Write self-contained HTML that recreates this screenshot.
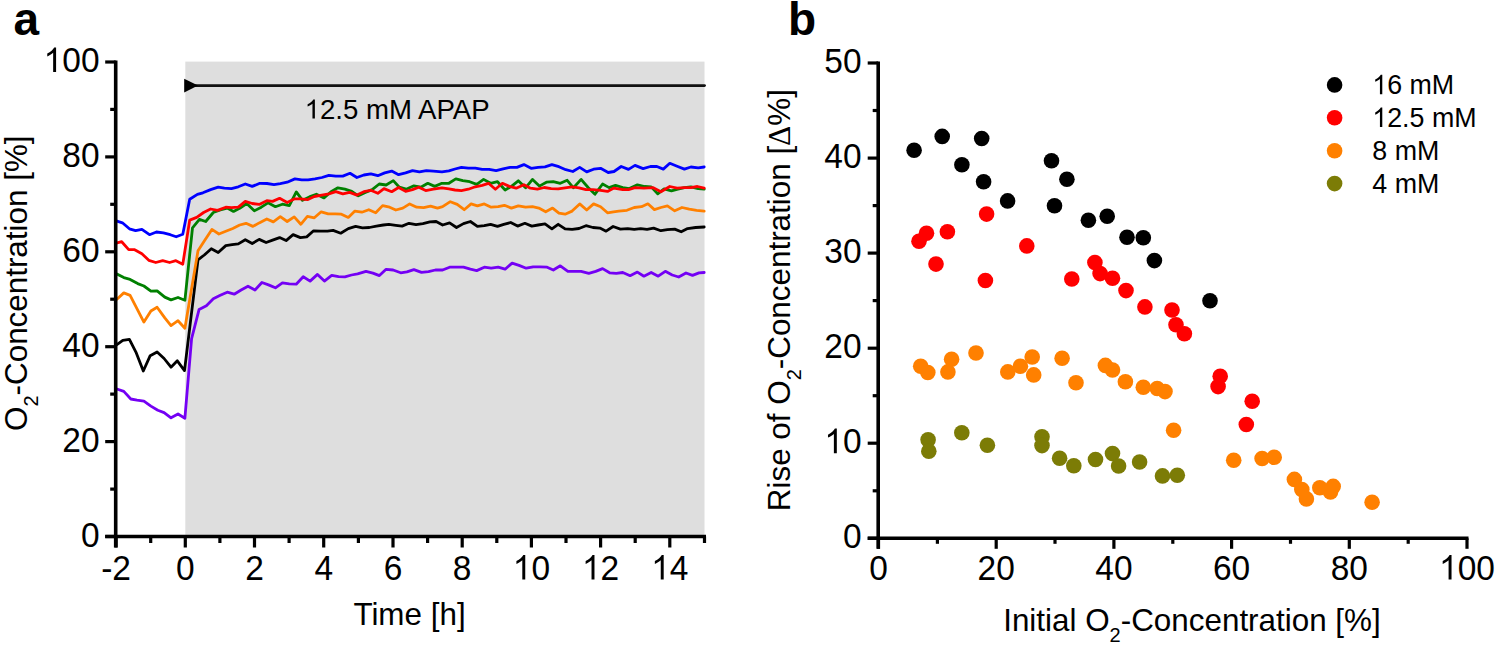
<!DOCTYPE html>
<html><head><meta charset="utf-8"><title>Figure</title>
<style>html,body{margin:0;padding:0;background:#fff;width:1498px;height:648px;overflow:hidden}svg{display:block}</style>
</head><body>
<svg width="1498" height="648" viewBox="0 0 1498 648">
<rect x="0" y="0" width="1498" height="648" fill="#fff"/>
<rect x="185.3" y="61.6" width="519.2" height="474.9" fill="#dedede"/>
<line x1="190" y1="85.6" x2="704.5" y2="85.6" stroke="#111" stroke-width="2.8" stroke-linecap="round"/>
<polygon points="184.2,78.8 198,85.6 184.2,92.5" fill="#000"/>
<g transform="translate(304.60,118.60)"><path d="M763 0L583 0L583 1102C540 1063 483 1024 413 984C343 945 280 915 223 894L223 1061C324 1106 412 1162 487 1226C562 1291 615 1352 646 1409L763 1409Z" transform="translate(0.00,0) scale(0.01348,-0.01348)"/><text x="15.35" y="0" font-family="Liberation Sans, sans-serif" font-size="27.6"  xml:space="preserve">2.5 mM APAP</text></g>
<polyline points="116.9,344.6 122.8,340.4 129.4,339.4 136.3,352.9 143.3,371.0 150.2,355.7 157.1,351.9 164.1,358.5 171.0,367.2 177.3,360.8 184.5,370.6 198.0,259.9 204.3,255.0 211.3,248.8 218.2,252.5 225.8,245.6 232.1,244.6 238.3,243.9 245.3,239.7 252.2,243.5 259.2,239.4 266.1,242.5 272.6,240.1 279.6,237.6 286.1,240.6 293.1,234.6 300.4,237.6 306.7,236.9 313.6,230.8 320.6,231.1 327.5,231.1 333.1,230.4 340.7,233.2 348.3,228.6 355.6,226.4 362.5,227.8 369.4,227.5 376.4,226.1 383.3,225.0 388.9,224.3 395.8,225.3 402.1,226.1 409.0,223.3 416.0,224.7 422.9,223.6 429.9,221.9 436.1,221.5 442.6,225.0 449.6,222.9 456.5,227.5 463.5,223.6 470.4,221.5 477.4,226.4 484.3,225.7 490.6,224.3 497.5,226.4 503.8,224.3 510.7,222.5 517.6,226.1 524.9,223.3 531.8,226.1 538.1,225.0 545.0,223.9 551.9,228.9 558.2,224.3 565.1,228.9 572.1,229.4 579.0,228.5 586.0,225.7 592.9,227.5 599.9,228.1 606.1,231.2 613.1,226.5 620.4,229.1 627.7,228.6 634.2,229.4 640.7,228.6 647.1,229.4 653.6,228.1 660.9,230.7 667.4,229.7 674.7,229.1 681.2,231.8 687.6,228.6 695.7,227.5 704.2,227.0" fill="none" stroke="#000000" stroke-width="2.8" stroke-linejoin="round" stroke-linecap="round"/>
<polyline points="116.9,389.0 123.8,391.4 130.8,399.0 137.0,400.1 143.9,401.1 150.9,406.1 157.8,410.3 164.1,412.6 171.0,417.8 178.0,414.0 184.9,418.2 191.6,338.6 199.1,309.4 206.4,305.7 213.3,298.8 220.3,295.3 227.2,292.2 234.2,294.2 241.1,290.0 248.0,286.2 255.0,290.0 261.9,282.5 268.5,284.9 275.4,287.8 282.4,282.8 289.3,283.9 296.2,284.2 303.2,276.7 310.1,281.1 317.5,274.4 324.4,281.1 331.7,275.3 338.6,276.7 344.9,276.9 351.5,275.0 357.6,273.8 366.0,271.4 372.9,273.1 379.4,275.6 386.1,269.3 393.1,270.0 400.7,272.8 406.9,271.9 413.9,269.6 421.5,272.4 428.5,271.7 435.4,270.0 442.6,270.0 449.6,267.2 456.5,267.2 463.5,267.2 470.4,269.2 476.7,270.6 484.3,267.2 491.2,268.2 498.2,267.2 505.1,269.2 512.1,263.1 519.0,265.4 526.2,268.2 533.2,266.8 540.1,266.8 547.1,267.2 553.3,270.0 560.3,265.8 567.9,271.4 574.9,271.4 581.1,271.4 588.8,273.3 595.7,271.4 602.6,268.6 609.6,272.8 616.3,273.4 622.8,272.5 630.1,275.7 637.4,272.1 643.9,276.2 651.2,272.5 658.2,276.2 665.3,271.3 672.2,275.0 678.7,277.0 686.0,273.0 692.5,275.4 699.0,272.9 704.2,272.5" fill="none" stroke="#7400f4" stroke-width="2.8" stroke-linejoin="round" stroke-linecap="round"/>
<polyline points="116.9,299.2 123.8,292.9 130.1,295.4 143.9,322.1 150.9,311.0 157.1,307.2 164.8,317.9 171.0,325.6 178.0,320.7 184.9,328.3 198.0,250.8 204.3,241.1 211.9,229.4 218.9,234.0 225.8,231.3 232.8,228.5 239.7,225.0 246.0,223.3 252.9,226.4 259.2,222.9 266.8,219.0 273.3,221.9 280.3,216.7 287.2,221.5 294.2,216.9 300.8,224.3 307.4,216.4 314.3,217.8 321.2,211.8 328.2,213.9 335.1,213.9 341.4,214.2 348.3,217.4 354.9,211.1 361.8,212.2 368.8,209.7 375.7,212.8 382.6,205.6 389.6,207.2 395.8,210.0 402.8,208.1 409.7,203.9 416.7,207.2 423.6,207.6 430.6,206.2 437.5,208.1 442.6,206.7 450.3,201.7 457.2,204.4 464.2,209.7 471.1,203.9 477.4,205.8 484.3,203.9 491.2,207.2 498.2,206.7 504.4,205.3 511.4,208.1 518.3,205.8 525.6,207.2 532.5,206.7 538.8,208.1 545.7,211.8 552.6,208.1 558.9,213.2 565.1,214.2 572.1,211.1 579.7,203.9 586.7,210.0 593.6,203.9 600.6,206.7 607.5,212.8 613.5,211.8 618.8,211.2 626.9,210.3 634.2,207.5 641.5,206.7 647.9,203.8 654.4,209.6 660.9,207.5 667.4,205.9 674.7,210.8 682.0,207.5 689.3,209.1 696.6,210.3 704.2,211.2" fill="none" stroke="#ff8000" stroke-width="2.8" stroke-linejoin="round" stroke-linecap="round"/>
<polyline points="116.2,220.8 122.4,222.8 129.4,228.8 135.6,230.6 141.9,229.4 149.5,234.7 156.4,232.0 163.4,232.9 170.3,234.7 176.2,236.8 182.8,234.3 189.7,199.3 197.4,194.4 202.9,192.8 210.6,189.6 218.2,187.2 224.4,188.2 231.4,188.6 238.3,186.8 245.3,184.0 252.2,186.4 259.9,183.3 267.0,183.5 274.0,184.7 280.3,183.6 287.2,182.2 294.9,178.9 301.8,179.9 308.1,179.9 315.0,178.9 321.9,177.5 328.9,175.3 335.8,176.1 342.8,176.1 350.0,173.3 356.9,177.5 363.9,175.0 370.8,173.9 377.8,175.7 384.7,172.9 391.7,171.1 398.6,174.7 405.6,172.9 412.5,170.6 419.4,171.9 426.4,170.6 433.3,171.1 441.9,171.9 448.9,170.8 455.0,169.0 461.4,167.4 468.3,168.1 475.3,168.1 482.2,169.4 489.2,169.4 496.1,170.6 503.1,168.8 510.0,167.4 516.9,167.4 523.9,164.6 531.1,168.3 538.1,167.4 545.0,166.9 551.9,164.6 558.9,166.7 565.8,169.7 572.8,171.5 579.7,167.4 586.7,171.9 593.6,169.2 600.6,168.3 608.2,172.5 614.0,171.5 621.2,166.5 628.5,169.4 635.0,165.4 643.1,168.6 650.4,166.5 656.9,166.5 663.3,169.1 669.8,163.3 677.1,166.2 684.4,169.1 690.9,167.0 698.2,167.8 704.2,167.0" fill="none" stroke="#0000ff" stroke-width="2.8" stroke-linejoin="round" stroke-linecap="round"/>
<polyline points="116.9,273.9 123.8,277.6 130.1,279.4 137.7,283.6 143.9,286.0 150.9,291.1 157.1,290.8 164.8,297.1 171.0,299.9 178.0,297.5 184.9,300.3 192.5,227.8 199.4,219.4 205.7,221.5 213.3,212.5 220.3,210.0 227.2,208.1 233.5,211.4 239.7,208.3 246.7,203.5 254.3,210.8 261.3,207.2 268.0,202.8 275.4,206.7 282.4,204.2 289.3,205.6 296.3,191.9 302.5,200.3 309.4,196.9 316.4,194.2 324.0,197.9 331.0,191.7 337.9,187.8 344.9,189.2 351.8,191.4 358.3,195.8 365.3,192.4 372.2,189.6 379.2,184.0 386.1,185.0 393.3,180.6 399.3,187.2 406.2,189.2 413.9,185.8 420.8,187.2 427.8,183.3 434.7,186.4 441.9,183.3 448.9,183.3 455.8,178.9 462.8,180.6 469.7,181.7 476.7,184.4 483.6,179.4 490.6,183.3 497.5,181.7 505.1,190.0 511.4,186.4 518.3,180.8 525.6,187.8 532.5,179.4 539.4,186.1 546.4,182.2 553.3,181.7 560.3,183.3 567.2,180.3 573.5,187.8 581.1,179.4 588.1,187.5 595.0,194.2 602.6,184.0 609.1,187.6 615.5,185.3 622.8,187.6 629.3,188.6 637.4,184.8 644.7,186.5 651.2,186.9 657.7,193.8 664.1,188.9 671.4,190.8 677.9,189.2 684.4,187.6 690.9,186.9 698.2,188.6 704.2,189.2" fill="none" stroke="#008000" stroke-width="2.8" stroke-linejoin="round" stroke-linecap="round"/>
<polyline points="116.2,243.1 121.7,241.7 128.7,249.6 134.2,249.6 141.9,253.8 148.8,260.3 155.8,262.5 162.7,260.7 169.6,262.5 175.9,260.7 182.8,264.2 189.7,220.1 196.7,217.4 203.6,212.5 210.6,209.0 217.5,210.4 225.8,207.2 231.4,207.6 238.3,207.2 245.3,201.4 252.2,203.5 259.2,204.4 266.8,200.7 272.6,201.4 279.6,198.3 287.2,202.5 294.2,198.9 300.4,198.9 307.4,199.7 314.3,196.5 321.9,195.1 328.9,193.8 335.8,191.7 342.8,193.8 349.7,192.4 356.9,195.1 363.9,191.7 370.8,190.3 377.8,193.3 384.0,188.6 391.7,191.7 398.6,187.5 405.6,191.4 412.5,189.6 418.8,187.2 425.7,190.6 433.3,189.2 441.9,187.8 448.9,188.9 455.0,190.0 461.4,190.6 468.3,189.2 475.3,186.8 482.2,185.4 488.5,183.3 495.4,189.2 502.4,183.3 509.3,186.4 516.2,188.2 523.9,184.7 530.4,188.2 537.4,189.2 544.3,187.5 551.2,188.6 558.2,188.9 565.1,187.8 572.1,186.8 579.0,187.8 586.0,189.6 592.9,189.6 600.6,190.3 607.5,191.4 613.9,188.1 622.8,189.7 628.5,189.7 635.0,187.6 643.9,188.1 652.8,187.6 660.9,191.8 669.8,186.5 677.1,188.1 684.4,187.6 690.9,187.6 697.4,186.5 704.2,188.1" fill="none" stroke="#ff0000" stroke-width="2.8" stroke-linejoin="round" stroke-linecap="round"/>
<line x1="115.7" y1="60.5" x2="115.7" y2="547.5" stroke="#000" stroke-width="3.6"/>
<line x1="105.2" y1="536.5" x2="706.0" y2="536.5" stroke="#000" stroke-width="3.6"/>
<line x1="105.2" y1="536.5" x2="115.7" y2="536.5" stroke="#000" stroke-width="3.2"/>
<g transform="translate(99.50,546.60) scale(1,1.07)"><text x="-18.63" y="0" font-family="Liberation Sans, sans-serif" font-size="33.5"  xml:space="preserve">0</text></g>
<line x1="110.2" y1="489.1" x2="115.7" y2="489.1" stroke="#000" stroke-width="3.2"/>
<line x1="105.2" y1="441.6" x2="115.7" y2="441.6" stroke="#000" stroke-width="3.2"/>
<g transform="translate(99.50,451.70) scale(1,1.07)"><text x="-37.26" y="0" font-family="Liberation Sans, sans-serif" font-size="33.5"  xml:space="preserve">20</text></g>
<line x1="110.2" y1="394.1" x2="115.7" y2="394.1" stroke="#000" stroke-width="3.2"/>
<line x1="105.2" y1="346.7" x2="115.7" y2="346.7" stroke="#000" stroke-width="3.2"/>
<g transform="translate(99.50,356.80) scale(1,1.07)"><text x="-37.26" y="0" font-family="Liberation Sans, sans-serif" font-size="33.5"  xml:space="preserve">40</text></g>
<line x1="110.2" y1="299.2" x2="115.7" y2="299.2" stroke="#000" stroke-width="3.2"/>
<line x1="105.2" y1="251.8" x2="115.7" y2="251.8" stroke="#000" stroke-width="3.2"/>
<g transform="translate(99.50,261.90) scale(1,1.07)"><text x="-37.26" y="0" font-family="Liberation Sans, sans-serif" font-size="33.5"  xml:space="preserve">60</text></g>
<line x1="110.2" y1="204.3" x2="115.7" y2="204.3" stroke="#000" stroke-width="3.2"/>
<line x1="105.2" y1="156.9" x2="115.7" y2="156.9" stroke="#000" stroke-width="3.2"/>
<g transform="translate(99.50,167.00) scale(1,1.07)"><text x="-37.26" y="0" font-family="Liberation Sans, sans-serif" font-size="33.5"  xml:space="preserve">80</text></g>
<line x1="110.2" y1="109.4" x2="115.7" y2="109.4" stroke="#000" stroke-width="3.2"/>
<line x1="105.2" y1="62.0" x2="115.7" y2="62.0" stroke="#000" stroke-width="3.2"/>
<g transform="translate(99.50,72.10) scale(1,1.07)"><path d="M763 0L583 0L583 1102C540 1063 483 1024 413 984C343 945 280 915 223 894L223 1061C324 1106 412 1162 487 1226C562 1291 615 1352 646 1409L763 1409Z" transform="translate(-55.89,0) scale(0.01636,-0.01636)"/><text x="-37.26" y="0" font-family="Liberation Sans, sans-serif" font-size="33.5"  xml:space="preserve">00</text></g>
<line x1="116.1" y1="536.5" x2="116.1" y2="547.5" stroke="#000" stroke-width="3.2"/>
<g transform="translate(116.08,579.60) scale(1,1.07)"><text x="-14.89" y="0" font-family="Liberation Sans, sans-serif" font-size="33.5"  xml:space="preserve">-2</text></g>
<line x1="150.7" y1="536.5" x2="150.7" y2="543.0" stroke="#000" stroke-width="3.2"/>
<line x1="185.3" y1="536.5" x2="185.3" y2="547.5" stroke="#000" stroke-width="3.2"/>
<g transform="translate(185.30,579.60) scale(1,1.07)"><text x="-9.32" y="0" font-family="Liberation Sans, sans-serif" font-size="33.5"  xml:space="preserve">0</text></g>
<line x1="219.9" y1="536.5" x2="219.9" y2="543.0" stroke="#000" stroke-width="3.2"/>
<line x1="254.5" y1="536.5" x2="254.5" y2="547.5" stroke="#000" stroke-width="3.2"/>
<g transform="translate(254.52,579.60) scale(1,1.07)"><text x="-9.32" y="0" font-family="Liberation Sans, sans-serif" font-size="33.5"  xml:space="preserve">2</text></g>
<line x1="289.1" y1="536.5" x2="289.1" y2="543.0" stroke="#000" stroke-width="3.2"/>
<line x1="323.7" y1="536.5" x2="323.7" y2="547.5" stroke="#000" stroke-width="3.2"/>
<g transform="translate(323.74,579.60) scale(1,1.07)"><text x="-9.32" y="0" font-family="Liberation Sans, sans-serif" font-size="33.5"  xml:space="preserve">4</text></g>
<line x1="358.4" y1="536.5" x2="358.4" y2="543.0" stroke="#000" stroke-width="3.2"/>
<line x1="393.0" y1="536.5" x2="393.0" y2="547.5" stroke="#000" stroke-width="3.2"/>
<g transform="translate(392.96,579.60) scale(1,1.07)"><text x="-9.32" y="0" font-family="Liberation Sans, sans-serif" font-size="33.5"  xml:space="preserve">6</text></g>
<line x1="427.6" y1="536.5" x2="427.6" y2="543.0" stroke="#000" stroke-width="3.2"/>
<line x1="462.2" y1="536.5" x2="462.2" y2="547.5" stroke="#000" stroke-width="3.2"/>
<g transform="translate(462.18,579.60) scale(1,1.07)"><text x="-9.32" y="0" font-family="Liberation Sans, sans-serif" font-size="33.5"  xml:space="preserve">8</text></g>
<line x1="496.8" y1="536.5" x2="496.8" y2="543.0" stroke="#000" stroke-width="3.2"/>
<line x1="531.4" y1="536.5" x2="531.4" y2="547.5" stroke="#000" stroke-width="3.2"/>
<g transform="translate(531.40,579.60) scale(1,1.07)"><path d="M763 0L583 0L583 1102C540 1063 483 1024 413 984C343 945 280 915 223 894L223 1061C324 1106 412 1162 487 1226C562 1291 615 1352 646 1409L763 1409Z" transform="translate(-18.63,0) scale(0.01636,-0.01636)"/><text x="0.00" y="0" font-family="Liberation Sans, sans-serif" font-size="33.5"  xml:space="preserve">0</text></g>
<line x1="566.0" y1="536.5" x2="566.0" y2="543.0" stroke="#000" stroke-width="3.2"/>
<line x1="600.6" y1="536.5" x2="600.6" y2="547.5" stroke="#000" stroke-width="3.2"/>
<g transform="translate(600.62,579.60) scale(1,1.07)"><path d="M763 0L583 0L583 1102C540 1063 483 1024 413 984C343 945 280 915 223 894L223 1061C324 1106 412 1162 487 1226C562 1291 615 1352 646 1409L763 1409Z" transform="translate(-18.63,0) scale(0.01636,-0.01636)"/><text x="0.00" y="0" font-family="Liberation Sans, sans-serif" font-size="33.5"  xml:space="preserve">2</text></g>
<line x1="635.2" y1="536.5" x2="635.2" y2="543.0" stroke="#000" stroke-width="3.2"/>
<line x1="669.8" y1="536.5" x2="669.8" y2="547.5" stroke="#000" stroke-width="3.2"/>
<g transform="translate(669.84,579.60) scale(1,1.07)"><path d="M763 0L583 0L583 1102C540 1063 483 1024 413 984C343 945 280 915 223 894L223 1061C324 1106 412 1162 487 1226C562 1291 615 1352 646 1409L763 1409Z" transform="translate(-18.63,0) scale(0.01636,-0.01636)"/><text x="0.00" y="0" font-family="Liberation Sans, sans-serif" font-size="33.5"  xml:space="preserve">4</text></g>
<line x1="704.5" y1="536.5" x2="704.5" y2="543.0" stroke="#000" stroke-width="3.2"/>
<text x="353.4" y="625" font-family="Liberation Sans, sans-serif" font-size="31.4">Time [h]</text>
<text transform="translate(26.5,431) rotate(-90)" font-family="Liberation Sans, sans-serif" font-size="31.4">O<tspan font-size="20" dy="11">2</tspan><tspan dy="-11">-Concentration [%]</tspan></text>
<text x="13.5" y="34.5" font-family="Liberation Sans, sans-serif" font-weight="bold" font-size="46">a</text>
<text x="788" y="35" font-family="Liberation Sans, sans-serif" font-weight="bold" font-size="46">b</text>
<circle cx="914.1" cy="150.2" r="7.8" fill="#000000"/>
<circle cx="942.2" cy="136.4" r="7.8" fill="#000000"/>
<circle cx="981.7" cy="138.5" r="7.8" fill="#000000"/>
<circle cx="961.9" cy="164.8" r="7.8" fill="#000000"/>
<circle cx="983.6" cy="181.7" r="7.8" fill="#000000"/>
<circle cx="1007.6" cy="200.9" r="7.8" fill="#000000"/>
<circle cx="1051.5" cy="160.7" r="7.8" fill="#000000"/>
<circle cx="1066.9" cy="179.3" r="7.8" fill="#000000"/>
<circle cx="1054.5" cy="205.8" r="7.8" fill="#000000"/>
<circle cx="1088.4" cy="220.2" r="7.8" fill="#000000"/>
<circle cx="1107.2" cy="216.2" r="7.8" fill="#000000"/>
<circle cx="1127.0" cy="237.2" r="7.8" fill="#000000"/>
<circle cx="1143.3" cy="237.8" r="7.8" fill="#000000"/>
<circle cx="1154.4" cy="260.6" r="7.8" fill="#000000"/>
<circle cx="1210.0" cy="300.7" r="7.8" fill="#000000"/>
<circle cx="986.6" cy="214.1" r="7.8" fill="#ff0000"/>
<circle cx="926.5" cy="233.3" r="7.8" fill="#ff0000"/>
<circle cx="919.0" cy="241.3" r="7.8" fill="#ff0000"/>
<circle cx="947.4" cy="231.7" r="7.8" fill="#ff0000"/>
<circle cx="936.0" cy="264.1" r="7.8" fill="#ff0000"/>
<circle cx="1026.8" cy="245.9" r="7.8" fill="#ff0000"/>
<circle cx="985.4" cy="280.5" r="7.8" fill="#ff0000"/>
<circle cx="1071.8" cy="279.0" r="7.8" fill="#ff0000"/>
<circle cx="1094.9" cy="262.5" r="7.8" fill="#ff0000"/>
<circle cx="1100.1" cy="273.6" r="7.8" fill="#ff0000"/>
<circle cx="1112.5" cy="278.2" r="7.8" fill="#ff0000"/>
<circle cx="1126.0" cy="290.6" r="7.8" fill="#ff0000"/>
<circle cx="1144.9" cy="306.9" r="7.8" fill="#ff0000"/>
<circle cx="1172.0" cy="310.0" r="7.8" fill="#ff0000"/>
<circle cx="1176.0" cy="324.8" r="7.8" fill="#ff0000"/>
<circle cx="1184.4" cy="333.8" r="7.8" fill="#ff0000"/>
<circle cx="1220.2" cy="376.3" r="7.8" fill="#ff0000"/>
<circle cx="1218.1" cy="386.6" r="7.8" fill="#ff0000"/>
<circle cx="1252.2" cy="401.3" r="7.8" fill="#ff0000"/>
<circle cx="1246.3" cy="424.5" r="7.8" fill="#ff0000"/>
<circle cx="920.7" cy="366.3" r="7.8" fill="#ff8000"/>
<circle cx="927.8" cy="372.5" r="7.8" fill="#ff8000"/>
<circle cx="951.6" cy="359.2" r="7.8" fill="#ff8000"/>
<circle cx="947.9" cy="371.9" r="7.8" fill="#ff8000"/>
<circle cx="976.0" cy="353.0" r="7.8" fill="#ff8000"/>
<circle cx="1007.8" cy="371.9" r="7.8" fill="#ff8000"/>
<circle cx="1020.4" cy="366.3" r="7.8" fill="#ff8000"/>
<circle cx="1032.2" cy="357.0" r="7.8" fill="#ff8000"/>
<circle cx="1033.7" cy="374.9" r="7.8" fill="#ff8000"/>
<circle cx="1062.1" cy="358.3" r="7.8" fill="#ff8000"/>
<circle cx="1076.0" cy="382.7" r="7.8" fill="#ff8000"/>
<circle cx="1105.4" cy="365.4" r="7.8" fill="#ff8000"/>
<circle cx="1112.5" cy="370.0" r="7.8" fill="#ff8000"/>
<circle cx="1125.4" cy="381.7" r="7.8" fill="#ff8000"/>
<circle cx="1143.3" cy="387.3" r="7.8" fill="#ff8000"/>
<circle cx="1157.2" cy="388.5" r="7.8" fill="#ff8000"/>
<circle cx="1165.0" cy="391.6" r="7.8" fill="#ff8000"/>
<circle cx="1173.6" cy="430.2" r="7.8" fill="#ff8000"/>
<circle cx="1233.7" cy="460.2" r="7.8" fill="#ff8000"/>
<circle cx="1262.1" cy="458.5" r="7.8" fill="#ff8000"/>
<circle cx="1274.2" cy="457.3" r="7.8" fill="#ff8000"/>
<circle cx="1294.4" cy="479.4" r="7.8" fill="#ff8000"/>
<circle cx="1301.8" cy="489.6" r="7.8" fill="#ff8000"/>
<circle cx="1306.4" cy="498.9" r="7.8" fill="#ff8000"/>
<circle cx="1319.8" cy="487.8" r="7.8" fill="#ff8000"/>
<circle cx="1333.2" cy="486.4" r="7.8" fill="#ff8000"/>
<circle cx="1330.5" cy="492.0" r="7.8" fill="#ff8000"/>
<circle cx="1372.1" cy="502.2" r="7.8" fill="#ff8000"/>
<circle cx="928.1" cy="439.8" r="7.8" fill="#7c7c06"/>
<circle cx="928.8" cy="451.2" r="7.8" fill="#7c7c06"/>
<circle cx="961.8" cy="432.7" r="7.8" fill="#7c7c06"/>
<circle cx="987.4" cy="445.3" r="7.8" fill="#7c7c06"/>
<circle cx="1042.0" cy="436.7" r="7.8" fill="#7c7c06"/>
<circle cx="1042.0" cy="445.6" r="7.8" fill="#7c7c06"/>
<circle cx="1059.6" cy="458.3" r="7.8" fill="#7c7c06"/>
<circle cx="1073.8" cy="465.7" r="7.8" fill="#7c7c06"/>
<circle cx="1095.5" cy="459.5" r="7.8" fill="#7c7c06"/>
<circle cx="1112.5" cy="453.6" r="7.8" fill="#7c7c06"/>
<circle cx="1118.6" cy="466.0" r="7.8" fill="#7c7c06"/>
<circle cx="1139.6" cy="462.0" r="7.8" fill="#7c7c06"/>
<circle cx="1162.5" cy="475.9" r="7.8" fill="#7c7c06"/>
<circle cx="1177.3" cy="475.2" r="7.8" fill="#7c7c06"/>
<line x1="878.2" y1="61.5" x2="878.2" y2="548.8" stroke="#000" stroke-width="3.6"/>
<line x1="867.7" y1="538.3" x2="1468.5" y2="538.3" stroke="#000" stroke-width="3.6"/>
<line x1="867.7" y1="538.3" x2="878.2" y2="538.3" stroke="#000" stroke-width="3.2"/>
<g transform="translate(861.60,548.30) scale(1,1.07)"><text x="-18.63" y="0" font-family="Liberation Sans, sans-serif" font-size="33.5"  xml:space="preserve">0</text></g>
<line x1="872.7" y1="490.8" x2="878.2" y2="490.8" stroke="#000" stroke-width="3.2"/>
<line x1="867.7" y1="443.2" x2="878.2" y2="443.2" stroke="#000" stroke-width="3.2"/>
<g transform="translate(861.60,453.24) scale(1,1.07)"><path d="M763 0L583 0L583 1102C540 1063 483 1024 413 984C343 945 280 915 223 894L223 1061C324 1106 412 1162 487 1226C562 1291 615 1352 646 1409L763 1409Z" transform="translate(-37.26,0) scale(0.01636,-0.01636)"/><text x="-18.63" y="0" font-family="Liberation Sans, sans-serif" font-size="33.5"  xml:space="preserve">0</text></g>
<line x1="872.7" y1="395.7" x2="878.2" y2="395.7" stroke="#000" stroke-width="3.2"/>
<line x1="867.7" y1="348.2" x2="878.2" y2="348.2" stroke="#000" stroke-width="3.2"/>
<g transform="translate(861.60,358.18) scale(1,1.07)"><text x="-37.26" y="0" font-family="Liberation Sans, sans-serif" font-size="33.5"  xml:space="preserve">20</text></g>
<line x1="872.7" y1="300.6" x2="878.2" y2="300.6" stroke="#000" stroke-width="3.2"/>
<line x1="867.7" y1="253.1" x2="878.2" y2="253.1" stroke="#000" stroke-width="3.2"/>
<g transform="translate(861.60,263.12) scale(1,1.07)"><text x="-37.26" y="0" font-family="Liberation Sans, sans-serif" font-size="33.5"  xml:space="preserve">30</text></g>
<line x1="872.7" y1="205.6" x2="878.2" y2="205.6" stroke="#000" stroke-width="3.2"/>
<line x1="867.7" y1="158.1" x2="878.2" y2="158.1" stroke="#000" stroke-width="3.2"/>
<g transform="translate(861.60,168.06) scale(1,1.07)"><text x="-37.26" y="0" font-family="Liberation Sans, sans-serif" font-size="33.5"  xml:space="preserve">40</text></g>
<line x1="872.7" y1="110.5" x2="878.2" y2="110.5" stroke="#000" stroke-width="3.2"/>
<line x1="867.7" y1="63.0" x2="878.2" y2="63.0" stroke="#000" stroke-width="3.2"/>
<g transform="translate(861.60,73.00) scale(1,1.07)"><text x="-37.26" y="0" font-family="Liberation Sans, sans-serif" font-size="33.5"  xml:space="preserve">50</text></g>
<line x1="878.5" y1="538.3" x2="878.5" y2="548.8" stroke="#000" stroke-width="3.2"/>
<g transform="translate(878.50,579.60) scale(1,1.07)"><text x="-9.32" y="0" font-family="Liberation Sans, sans-serif" font-size="33.5"  xml:space="preserve">0</text></g>
<line x1="937.4" y1="538.3" x2="937.4" y2="543.8" stroke="#000" stroke-width="3.2"/>
<line x1="996.2" y1="538.3" x2="996.2" y2="548.8" stroke="#000" stroke-width="3.2"/>
<g transform="translate(996.20,579.60) scale(1,1.07)"><text x="-18.63" y="0" font-family="Liberation Sans, sans-serif" font-size="33.5"  xml:space="preserve">20</text></g>
<line x1="1055.0" y1="538.3" x2="1055.0" y2="543.8" stroke="#000" stroke-width="3.2"/>
<line x1="1113.9" y1="538.3" x2="1113.9" y2="548.8" stroke="#000" stroke-width="3.2"/>
<g transform="translate(1113.90,579.60) scale(1,1.07)"><text x="-18.63" y="0" font-family="Liberation Sans, sans-serif" font-size="33.5"  xml:space="preserve">40</text></g>
<line x1="1172.8" y1="538.3" x2="1172.8" y2="543.8" stroke="#000" stroke-width="3.2"/>
<line x1="1231.6" y1="538.3" x2="1231.6" y2="548.8" stroke="#000" stroke-width="3.2"/>
<g transform="translate(1231.60,579.60) scale(1,1.07)"><text x="-18.63" y="0" font-family="Liberation Sans, sans-serif" font-size="33.5"  xml:space="preserve">60</text></g>
<line x1="1290.5" y1="538.3" x2="1290.5" y2="543.8" stroke="#000" stroke-width="3.2"/>
<line x1="1349.3" y1="538.3" x2="1349.3" y2="548.8" stroke="#000" stroke-width="3.2"/>
<g transform="translate(1349.30,579.60) scale(1,1.07)"><text x="-18.63" y="0" font-family="Liberation Sans, sans-serif" font-size="33.5"  xml:space="preserve">80</text></g>
<line x1="1408.2" y1="538.3" x2="1408.2" y2="543.8" stroke="#000" stroke-width="3.2"/>
<line x1="1467.0" y1="538.3" x2="1467.0" y2="548.8" stroke="#000" stroke-width="3.2"/>
<g transform="translate(1467.00,579.60) scale(1,1.07)"><path d="M763 0L583 0L583 1102C540 1063 483 1024 413 984C343 945 280 915 223 894L223 1061C324 1106 412 1162 487 1226C562 1291 615 1352 646 1409L763 1409Z" transform="translate(-27.95,0) scale(0.01636,-0.01636)"/><text x="-9.32" y="0" font-family="Liberation Sans, sans-serif" font-size="33.5"  xml:space="preserve">00</text></g>
<text x="1003.2" y="631" font-family="Liberation Sans, sans-serif" font-size="31.4">Initial O<tspan font-size="20" dy="11">2</tspan><tspan dy="-11">-Concentration [%]</tspan></text>
<text transform="translate(790,511.2) rotate(-90)" font-family="Liberation Sans, sans-serif" font-size="31.4">Rise of O<tspan font-size="20" dy="11">2</tspan><tspan dy="-11">-Concentration [</tspan><tspan font-family="Liberation Serif, serif">Δ</tspan>%]</text>
<circle cx="1334.6" cy="84.9" r="7.8" fill="#000"/>
<g transform="translate(1372.30,94.20) scale(1,1.06)"><path d="M763 0L583 0L583 1102C540 1063 483 1024 413 984C343 945 280 915 223 894L223 1061C324 1106 412 1162 487 1226C562 1291 615 1352 646 1409L763 1409Z" transform="translate(0.00,0) scale(0.01309,-0.01309)"/><text x="14.90" y="0" font-family="Liberation Sans, sans-serif" font-size="26.8"  xml:space="preserve">6 mM</text></g>
<circle cx="1334.6" cy="117.8" r="7.8" fill="#ff0000"/>
<g transform="translate(1372.30,127.10) scale(1,1.06)"><path d="M763 0L583 0L583 1102C540 1063 483 1024 413 984C343 945 280 915 223 894L223 1061C324 1106 412 1162 487 1226C562 1291 615 1352 646 1409L763 1409Z" transform="translate(0.00,0) scale(0.01309,-0.01309)"/><text x="14.90" y="0" font-family="Liberation Sans, sans-serif" font-size="26.8"  xml:space="preserve">2.5 mM</text></g>
<circle cx="1334.6" cy="150.7" r="7.8" fill="#ff8000"/>
<g transform="translate(1372.30,160.00) scale(1,1.06)"><text x="0.00" y="0" font-family="Liberation Sans, sans-serif" font-size="26.8"  xml:space="preserve">8 mM</text></g>
<circle cx="1334.6" cy="183.6" r="7.8" fill="#7c7c06"/>
<g transform="translate(1372.30,192.90) scale(1,1.06)"><text x="0.00" y="0" font-family="Liberation Sans, sans-serif" font-size="26.8"  xml:space="preserve">4 mM</text></g>
</svg>
</body></html>
